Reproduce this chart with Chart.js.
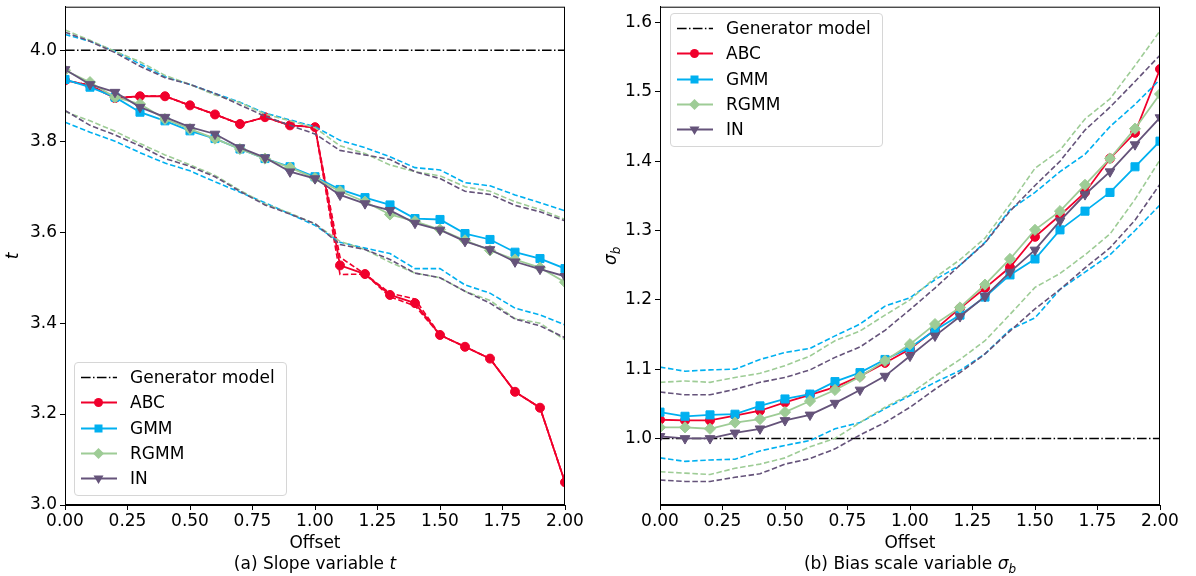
<!DOCTYPE html>
<html>
<head>
<meta charset="utf-8">
<script src="https://cdn.jsdelivr.net/npm/chart.js@4.4.1/dist/chart.umd.min.js"></script>
<style>
body { margin: 0; background: #fff; font-family: "DejaVu Sans", sans-serif; color: #000; }
#wrap { position: relative; width: 1196px; height: 576px; overflow: hidden; }
canvas { position: absolute; top: 0; }
.cap { position: absolute; top: 553px; width: 500px; font-size: 17px; line-height: 20px; text-align: center; }
.legend { position: absolute; width: 211px; height: 132px; border: 1px solid #d6d6d6; border-radius: 4px; background: rgba(255,255,255,0.8); font-size: 17px; }
.row { position: absolute; left: 0; height: 25px; width: 211px; }
.row svg { position: absolute; left: 5px; top: 0; }
.row span { position: absolute; left: 55px; top: 0; line-height: 25px; white-space: nowrap; }
</style>
</head>
<body>
<div id="wrap">
  <canvas id="left" width="595" height="558" style="left:0px"></canvas>
  <canvas id="right" width="601" height="558" style="left:595px"></canvas>
  <div class="cap" style="left:65px">(a) Slope variable <i>t</i></div>
  <div class="cap" style="left:660px">(b) Bias scale variable <i>σ<sub style="font-size:12px">b</sub></i></div>
  <div class="legend" id="legLeft" style="left:74px; top:362px"></div>
  <div class="legend" id="legRight" style="left:670px; top:13px"></div>
</div>
<script>
// offsets on the x axis
const offsets = [0.0, 0.1, 0.2, 0.3, 0.4, 0.5, 0.6, 0.7, 0.8, 0.9, 1.0, 1.1, 1.2, 1.3, 1.4, 1.5, 1.6, 1.7, 1.8, 1.9, 2.0];
const xTicks = [0.0, 0.25, 0.5, 0.75, 1.0, 1.25, 1.5, 1.75, 2.0];
const tTicks = [3.0, 3.2, 3.4, 3.6, 3.8, 4.0];
const sigmaTicks = [1.0, 1.1, 1.2, 1.3, 1.4, 1.5, 1.6];

const methods = ['ABC', 'GMM', 'RGMM', 'IN'];
const genT = 4.0;
const genSigma = 1.0;

// (a) slope variable t
const tAbc  = [3.934, 3.923, 3.895, 3.899, 3.899, 3.879, 3.859, 3.838, 3.853, 3.835, 3.831, 3.527, 3.508, 3.462, 3.444, 3.374, 3.348, 3.322, 3.249, 3.214, 3.050];
const tGmm  = [3.936, 3.919, 3.897, 3.864, 3.845, 3.823, 3.806, 3.783, 3.762, 3.744, 3.722, 3.694, 3.676, 3.660, 3.630, 3.628, 3.597, 3.584, 3.556, 3.542, 3.520];
const tRgmm = [3.956, 3.930, 3.897, 3.882, 3.849, 3.827, 3.806, 3.783, 3.762, 3.742, 3.719, 3.690, 3.667, 3.639, 3.624, 3.606, 3.582, 3.560, 3.540, 3.522, 3.490];
const tIn   = [3.958, 3.925, 3.908, 3.875, 3.853, 3.831, 3.816, 3.786, 3.764, 3.733, 3.718, 3.682, 3.663, 3.648, 3.620, 3.605, 3.580, 3.562, 3.535, 3.519, 3.503];

const tAbcUp  = [3.934, 3.923, 3.895, 3.899, 3.899, 3.879, 3.859, 3.838, 3.853, 3.835, 3.831, 3.545, 3.508, 3.466, 3.453, 3.374, 3.348, 3.322, 3.249, 3.214, 3.050];
const tAbcLo  = [3.934, 3.923, 3.895, 3.899, 3.899, 3.879, 3.859, 3.838, 3.853, 3.835, 3.831, 3.507, 3.508, 3.458, 3.438, 3.374, 3.348, 3.322, 3.249, 3.214, 3.050];
const tGmmUp  = [4.035, 4.020, 3.998, 3.970, 3.942, 3.925, 3.905, 3.886, 3.862, 3.847, 3.832, 3.802, 3.786, 3.766, 3.742, 3.737, 3.709, 3.702, 3.682, 3.665, 3.647];
const tGmmLo  = [3.842, 3.820, 3.800, 3.775, 3.752, 3.735, 3.711, 3.688, 3.665, 3.640, 3.615, 3.578, 3.565, 3.553, 3.520, 3.520, 3.484, 3.466, 3.433, 3.418, 3.396];
const tRgmmUp = [4.045, 4.022, 3.998, 3.975, 3.945, 3.925, 3.902, 3.885, 3.860, 3.845, 3.830, 3.790, 3.773, 3.748, 3.733, 3.724, 3.700, 3.690, 3.667, 3.650, 3.628];
const tRgmmLo = [3.865, 3.845, 3.822, 3.795, 3.770, 3.748, 3.725, 3.692, 3.662, 3.642, 3.618, 3.580, 3.562, 3.534, 3.510, 3.500, 3.470, 3.450, 3.410, 3.400, 3.363];
const tInUp   = [4.040, 4.020, 3.995, 3.965, 3.940, 3.925, 3.905, 3.880, 3.855, 3.835, 3.816, 3.780, 3.770, 3.760, 3.733, 3.718, 3.690, 3.683, 3.659, 3.645, 3.625];
const tInLo   = [3.868, 3.835, 3.814, 3.790, 3.762, 3.745, 3.722, 3.690, 3.660, 3.640, 3.619, 3.573, 3.562, 3.540, 3.510, 3.500, 3.470, 3.444, 3.409, 3.394, 3.368];

// (b) bias scale variable sigma_b
const sAbc  = [1.027, 1.026, 1.026, 1.033, 1.040, 1.052, 1.063, 1.074, 1.090, 1.109, 1.129, 1.157, 1.188, 1.217, 1.247, 1.291, 1.322, 1.355, 1.404, 1.441, 1.533];
const sGmm  = [1.038, 1.032, 1.034, 1.035, 1.047, 1.057, 1.064, 1.082, 1.095, 1.114, 1.131, 1.156, 1.178, 1.204, 1.236, 1.259, 1.301, 1.328, 1.355, 1.392, 1.429];
const sRgmm = [1.016, 1.016, 1.014, 1.023, 1.028, 1.038, 1.054, 1.070, 1.089, 1.112, 1.136, 1.165, 1.189, 1.222, 1.259, 1.301, 1.328, 1.366, 1.404, 1.447, 1.497];
const sIn   = [1.003, 1.000, 1.000, 1.008, 1.014, 1.026, 1.034, 1.051, 1.070, 1.090, 1.119, 1.148, 1.176, 1.205, 1.240, 1.272, 1.314, 1.352, 1.385, 1.424, 1.463];

const sGmmUp  = [1.103, 1.097, 1.099, 1.100, 1.114, 1.124, 1.130, 1.148, 1.165, 1.191, 1.203, 1.229, 1.250, 1.283, 1.330, 1.355, 1.385, 1.410, 1.450, 1.482, 1.518];
const sGmmLo  = [0.972, 0.967, 0.969, 0.970, 0.982, 0.990, 0.997, 1.014, 1.023, 1.043, 1.062, 1.081, 1.098, 1.122, 1.157, 1.174, 1.215, 1.240, 1.265, 1.300, 1.337];
const sRgmmUp = [1.081, 1.083, 1.081, 1.088, 1.094, 1.105, 1.119, 1.141, 1.155, 1.178, 1.200, 1.232, 1.258, 1.289, 1.338, 1.390, 1.416, 1.461, 1.490, 1.538, 1.588];
const sRgmmLo = [0.952, 0.950, 0.948, 0.957, 0.963, 0.972, 0.988, 1.000, 1.023, 1.045, 1.064, 1.090, 1.114, 1.141, 1.179, 1.218, 1.238, 1.265, 1.295, 1.345, 1.402];
const sInUp   = [1.067, 1.063, 1.063, 1.071, 1.081, 1.088, 1.099, 1.117, 1.132, 1.156, 1.186, 1.217, 1.250, 1.282, 1.328, 1.365, 1.400, 1.445, 1.478, 1.515, 1.553];
const sInLo   = [0.940, 0.938, 0.938, 0.944, 0.949, 0.963, 0.971, 0.985, 1.005, 1.023, 1.045, 1.071, 1.095, 1.122, 1.155, 1.187, 1.215, 1.246, 1.275, 1.315, 1.367];

const colors = ['#f0002c', '#00b0f0', '#9ecc96', '#65537a'];
const pointStyles = ['circle', 'rect', 'rectRot', 'triangle'];
const pointSizes = [4.5, 5.7, 5.6, 5.6];
const dashDot = [9.6, 2.4, 1.5, 2.4];
const font = { family: '"DejaVu Sans"', size: 17 };

function pts(ys) {
    return ys.map((y, i) => ({ x: offsets[i], y: y }));
}

function makeSets(gen, series, ups, los) {
    const sets = [{
        data: [{ x: offsets[0], y: gen }, { x: offsets[offsets.length - 1], y: gen }],
        borderColor: '#000', borderWidth: 1.5, borderDash: dashDot,
        pointRadius: 0, order: 20
    }];
    series.forEach((ys, i) => {
        const z = (series.length - i) * 3;
        if (ups[i]) {
            [ups[i], los[i]].forEach(b => sets.push({
                data: pts(b), borderColor: colors[i], borderWidth: 1.6,
                borderDash: [5.5, 2.6], pointRadius: 0, order: z + 1
            }));
        }
        sets.push({
            data: pts(ys), borderColor: colors[i], borderWidth: 1.8,
            pointStyle: pointStyles[i], pointRadius: pointSizes[i],
            pointRotation: pointStyles[i] === 'triangle' ? 180 : 0,
            pointBackgroundColor: colors[i], pointBorderColor: colors[i],
            pointBorderWidth: 1, order: z
        });
    });
    sets.forEach(s => { s.clip = 0; s.tension = 0; });
    return sets;
}

// box around the axes
const frame = {
    id: 'frame',
    afterDraw(chart) {
        const a = chart.chartArea, c = chart.ctx;
        c.save();
        c.strokeStyle = '#000';
        c.lineWidth = 1;
        c.strokeRect(a.left + 0.5, a.top + 0.5, a.right - a.left - 1, a.bottom - a.top - 1);
        c.restore();
    }
};

function yTitle(main, sub, x) {
    return {
        id: 'ytitle',
        afterDraw(chart) {
            const a = chart.chartArea, c = chart.ctx;
            c.save();
            c.fillStyle = '#000';
            c.font = 'italic 17px "DejaVu Sans"';
            const w1 = c.measureText(main).width;
            c.font = 'italic 12px "DejaVu Sans"';
            const w2 = sub ? c.measureText(sub).width : 0;
            c.translate(x, (a.top + a.bottom) / 2);
            c.rotate(-Math.PI / 2);
            c.textBaseline = 'middle';
            c.font = 'italic 17px "DejaVu Sans"';
            c.fillText(main, -(w1 + w2) / 2, 0);
            if (sub) {
                c.font = 'italic 12px "DejaVu Sans"';
                c.fillText(sub, -(w1 + w2) / 2 + w1, 5);
            }
            c.restore();
        }
    };
}

function makeChart(id, sets, yMin, yMax, yTicks, padRight, title) {
    return new Chart(document.getElementById(id), {
        type: 'line',
        data: { datasets: sets },
        options: {
            responsive: false,
            animation: false,
            devicePixelRatio: 1,
            layout: { padding: { top: 4, right: padRight, left: 0, bottom: 0 } },
            plugins: { legend: { display: false }, tooltip: { enabled: false } },
            scales: {
                x: {
                    type: 'linear', min: 0, max: 2,
                    afterBuildTicks: s => { s.ticks = xTicks.map(v => ({ value: v })); },
                    afterFit: s => { s.height = 53; s.paddingLeft = 0; s.paddingRight = 0; },
                    ticks: { callback: v => v.toFixed(2), font: font, color: '#000', padding: 1, maxRotation: 0, autoSkip: false },
                    grid: { drawOnChartArea: false, tickLength: 5, color: '#000' },
                    border: { color: '#000' },
                    title: { display: true, text: 'Offset', font: font, color: '#000', padding: { top: 0, bottom: 4 } }
                },
                y: {
                    type: 'linear', min: yMin, max: yMax,
                    afterBuildTicks: s => { s.ticks = yTicks.map(v => ({ value: v })); },
                    afterFit: s => { s.width = 65; s.paddingTop = 0; s.paddingBottom = 0; },
                    ticks: { callback: v => v.toFixed(1), font: font, color: '#000', padding: 3, autoSkip: false },
                    grid: { drawOnChartArea: false, tickLength: 5, color: '#000' },
                    border: { color: '#000' }
                }
            }
        },
        plugins: [frame, title]
    });
}

makeChart('left',
    makeSets(genT, [tAbc, tGmm, tRgmm, tIn], [tAbcUp, tGmmUp, tRgmmUp, tInUp], [tAbcLo, tGmmLo, tRgmmLo, tInLo]),
    3.0, 4.096, tTicks, 30, yTitle('t', null, 14));

makeChart('right',
    makeSets(genSigma, [sAbc, sGmm, sRgmm, sIn], [null, sGmmUp, sRgmmUp, sInUp], [null, sGmmLo, sRgmmLo, sInLo]),
    0.904, 1.623, sigmaTicks, 36, yTitle('σ', 'b', 17));

// legends
function markerSvg(style, color) {
    const cx = 18.5, cy = 12.5;
    if (style === 'circle') return `<circle cx="${cx}" cy="${cy}" r="4.5" fill="${color}"/>`;
    if (style === 'rect') return `<rect x="${cx - 4}" y="${cy - 4}" width="8" height="8" fill="${color}"/>`;
    if (style === 'rectRot') return `<polygon points="${cx},${cy - 5.5} ${cx + 5.5},${cy} ${cx},${cy + 5.5} ${cx - 5.5},${cy}" fill="${color}"/>`;
    if (style === 'triangle') return `<polygon points="${cx - 5},${cy - 3} ${cx + 5},${cy - 3} ${cx},${cy + 5.5}" fill="${color}"/>`;
    return '';
}

function buildLegend(el) {
    let html = '';
    const rows = [{ name: 'Generator model', color: '#000', style: null }]
        .concat(methods.map((m, i) => ({ name: m, color: colors[i], style: pointStyles[i] })));
    rows.forEach((r, i) => {
        const dash = r.style ? '' : ` stroke-dasharray="${dashDot.join(' ')}"`;
        html += `<div class="row" style="top:${2 + i * 25.3}px">` +
            `<svg width="38" height="25"><line x1="1" y1="12.5" x2="37" y2="12.5" stroke="${r.color}" stroke-width="${r.style ? 1.8 : 1.5}"${dash}/>` +
            markerSvg(r.style, r.color) + `</svg><span>${r.name}</span></div>`;
    });
    el.innerHTML = html;
}
buildLegend(document.getElementById('legLeft'));
buildLegend(document.getElementById('legRight'));
</script>
</body>
</html>
